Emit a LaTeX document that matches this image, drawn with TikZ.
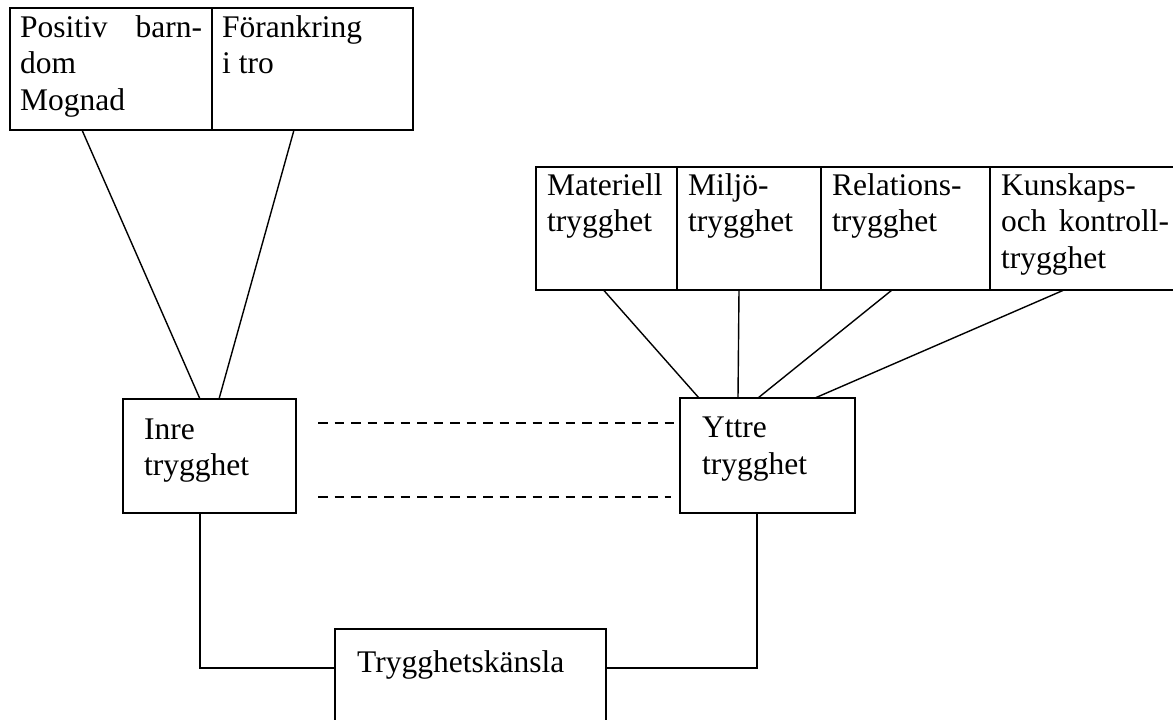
\documentclass[tikz,border=0pt]{standalone}
\usepackage{fontspec}
\setmainfont{Liberation Serif}
\usepackage{tikz}
\usetikzlibrary{calc}

\newcommand{\cellfont}{\fontsize{31.5}{36.5}\selectfont}

\begin{document}
\begin{tikzpicture}[x=1pt,y=-1pt,
    cell/.style={draw,line width=2.2pt,rectangle,anchor=north west,inner sep=0pt,outer sep=0pt},
    txt/.style={anchor=north west,inner sep=0pt,align=left,font=\cellfont},
    link/.style={line width=1.4pt},
    dashlink/.style={line width=2pt,dash pattern=on 9.5pt off 7pt}]
    \useasboundingbox (0,0) rectangle (1173,720);
    % boxes
    \node[cell,minimum width=202,minimum height=122] (barndom) at (10,8) {};
    \node[cell,minimum width=201,minimum height=122] (forankring) at (212,8) {};
    \node[cell,minimum width=141,minimum height=123] (materiell) at (536,167) {};
    \node[cell,minimum width=144,minimum height=123] (miljo) at (677,167) {};
    \node[cell,minimum width=169,minimum height=123] (relation) at (821,167) {};
    \node[cell,minimum width=200,minimum height=123] (kunskap) at (990,167) {};
    \node[cell,minimum width=173,minimum height=114] (inre) at (123,399) {};
    \node[cell,minimum width=175,minimum height=115] (yttre) at (680,398) {};
    \node[cell,minimum width=271,minimum height=120] (kansla) at (335,629) {};
    % texts
    \node[txt] (barndomtxt) at ([shift={(10,3.5)}]barndom.north west) {\strut\makebox[182pt][s]{Positiv barn-}\\dom\\Mognad};
    \node[txt] (forankringtxt) at ([shift={(10,3.5)}]forankring.north west) {\strut Förankring\\i tro};
    \node[txt] (materielltxt) at ([shift={(11,2.5)}]materiell.north west) {\strut Materiell\\trygghet};
    \node[txt] (miljotxt) at ([shift={(11,2.5)}]miljo.north west) {\strut Miljö-\\trygghet};
    \node[txt] (relationtxt) at ([shift={(11,2.5)}]relation.north west) {\strut Relations-\\trygghet};
    \node[txt] (kunskaptxt) at ([shift={(11,2.5)}]kunskap.north west) {\strut Kunskaps-\\\makebox[168pt][s]{och kontroll-}\\trygghet};
    \node[txt] (inretxt) at ([shift={(21,14.5)}]inre.north west) {\strut Inre\\trygghet};
    \node[txt] (yttretxt) at ([shift={(22,14)}]yttre.north west) {\strut Yttre\\trygghet};
    \node[txt] (kanslatxt) at ([shift={(22,17.5)}]kansla.north west) {\strut Trygghetskänsla};
    % connectors
    \draw[link] ([xshift=-29pt]barndom.south) -- ([xshift=77pt]inre.north west);
    \draw[link] ([xshift=-18.5pt]forankring.south) -- ([xshift=96pt]inre.north west);
    \draw[link] ([xshift=-3pt]materiell.south) -- ([xshift=19pt]yttre.north west);
    \draw[link] ([xshift=-10pt]miljo.south) -- ([xshift=58pt]yttre.north west);
    \draw[link] ([xshift=-13.5pt]relation.south) -- ([xshift=78pt]yttre.north west);
    \draw[link] ([xshift=-26pt]kunskap.south) -- ([xshift=135pt]yttre.north west);
    \draw[dashlink] ([shift={(22,24)}]inre.north east) -- ([shift={(0,25)}]yttre.north west);
    \draw[dashlink] ([shift={(22,-16)}]inre.south east) -- ([shift={(-9,-16)}]yttre.south west);
    \draw[link] ([xshift=-9.5pt]inre.south) |- ([yshift=21pt]kansla.west);
    \draw[link] ([xshift=-10.5pt]yttre.south) |- ([yshift=21pt]kansla.east);
\end{tikzpicture}
\end{document}
